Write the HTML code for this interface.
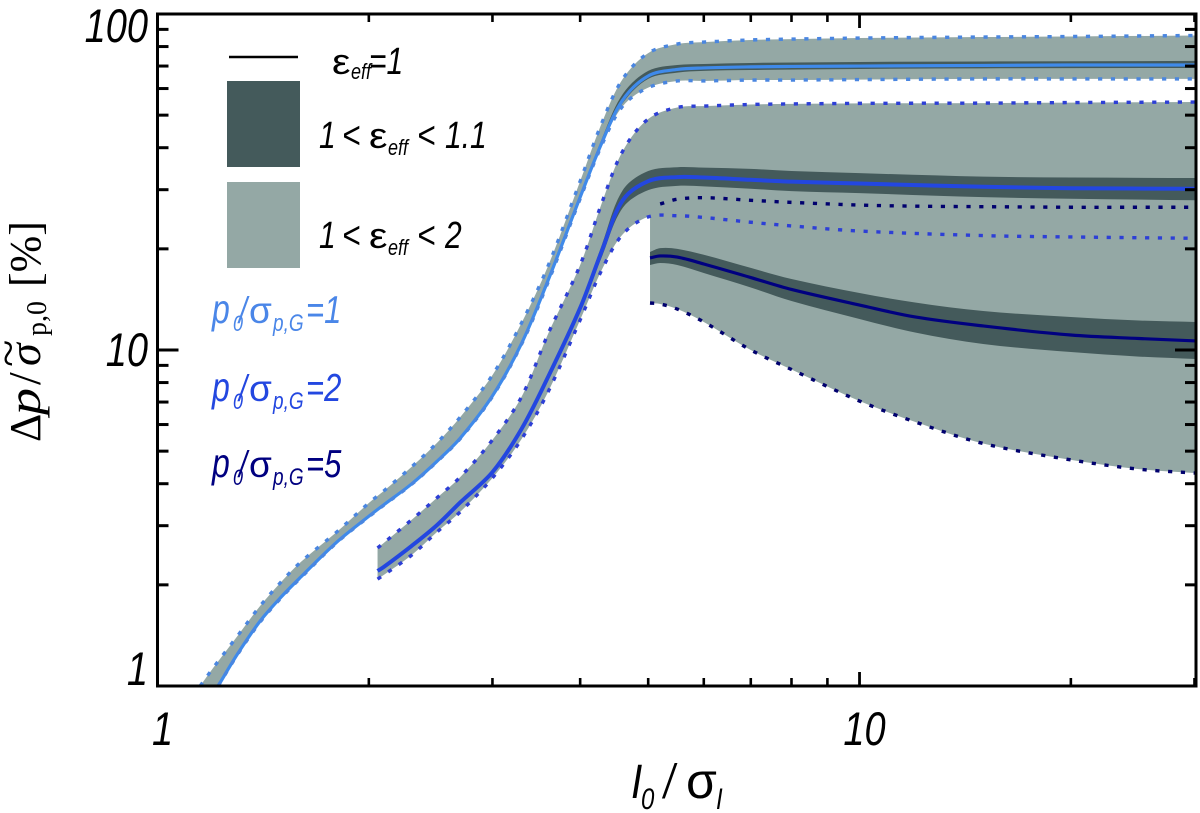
<!DOCTYPE html>
<html>
<head>
<meta charset="utf-8">
<title>Delta p versus I0 / sigma I</title>
<style>
html,body{margin:0;padding:0;background:#fff;}
svg{display:block;}
text{font-family:"Liberation Sans",sans-serif;}
.it{font-style:italic;}
.serif{font-family:"Liberation Serif",serif;}
</style>
</head>
<body>
<svg id="chart" xmlns="http://www.w3.org/2000/svg" width="1200" height="813" viewBox="0 0 1200 813">
  <defs><clipPath id="plot-clip"><rect x="157.5" y="14" width="1038.5" height="672"/></clipPath></defs>
  <rect x="0" y="0" width="1200" height="813" fill="#ffffff"/>
  <g id="marks" clip-path="url(#plot-clip)"></g>
  <g id="axes"></g>

  <g transform="translate(40,442) rotate(-90)" fill="#000">
    <text class="serif" x="0" y="0" font-size="44">Δ</text>
    <text class="serif" font-style="italic" transform="translate(27,0) scale(1.2,1)" font-size="45">p</text>
    <text class="serif" x="57" y="0" font-size="46">/</text>
    <text class="serif" font-style="italic" x="76" y="0" font-size="46">σ</text>
    <text class="serif" transform="translate(75,-17) scale(1.15,1)" font-size="44">~</text>
    <text class="serif" x="106" y="6" font-size="28">p,0</text>
    <text class="serif" x="155" y="0" font-size="44">[%]</text>
  </g>

  <g fill="#000">
    <text class="it" transform="translate(631,798) scale(1.1,1.3)" font-size="37">I</text>
    <text class="it" transform="translate(641,809) scale(1,1.25)" font-size="24">0</text>
    <text class="it" transform="translate(664,798) scale(1,1.3)" font-size="37">/</text>
    <text x="686" y="798" font-size="50">σ</text>
    <text class="it" transform="translate(716,809) scale(1,1.25)" font-size="24">I</text>
  </g>

  <g>
    <line x1="229" y1="57" x2="298" y2="57" stroke="#000" stroke-width="2.5"/>
    <rect x="227" y="81" width="73" height="86" fill="#445a5b"/>
    <rect x="227" y="182" width="73" height="86" fill="#94a8a5"/>

    <g fill="#000">
      <text transform="translate(332,74) scale(1.15,1)" font-size="36">ε</text>
      <text class="it" transform="translate(351,79) scale(1,1.25)" font-size="18">eff</text>
      <text class="it" transform="translate(369,74) scale(1,1.27)" font-size="30">=1</text>
    </g>
    <g fill="#000">
      <text class="it" transform="translate(319,148) scale(1,1.27)" font-size="30">1</text>
      <text class="it" transform="translate(342,148) scale(1.05,1.27)" font-size="30">&lt;</text>
      <text transform="translate(369,148) scale(1.15,1)" font-size="36">ε</text>
      <text class="it" transform="translate(388,155) scale(1,1.25)" font-size="18">eff</text>
      <text class="it" transform="translate(417,148) scale(1.05,1.27)" font-size="30">&lt;</text>
      <text class="it" transform="translate(445,148) scale(1,1.27)" font-size="30">1.1</text>
    </g>
    <g fill="#000">
      <text class="it" transform="translate(319,248) scale(1,1.27)" font-size="30">1</text>
      <text class="it" transform="translate(342,248) scale(1.05,1.27)" font-size="30">&lt;</text>
      <text transform="translate(369,248) scale(1.15,1)" font-size="36">ε</text>
      <text class="it" transform="translate(388,255) scale(1,1.25)" font-size="18">eff</text>
      <text class="it" transform="translate(417,248) scale(1.05,1.27)" font-size="30">&lt;</text>
      <text class="it" transform="translate(445,248) scale(1,1.27)" font-size="30">2</text>
    </g>

    <g fill="#4a86e8">
      <text class="it" transform="translate(212,323) scale(1,1.27)" font-size="32">p</text>
      <text class="it" transform="translate(233,331) scale(1,1.25)" font-size="18">0</text>
      <text class="it" transform="translate(239,323) scale(1,1.27)" font-size="29">/</text>
      <text x="249" y="323" font-size="37">σ</text>
      <text class="it" transform="translate(273,331) scale(1,1.25)" font-size="19">p,G</text>
      <text class="it" transform="translate(306,323) scale(1,1.27)" font-size="31">=1</text>
    </g>
    <g fill="#2347e0">
      <text class="it" transform="translate(212,401) scale(1,1.27)" font-size="32">p</text>
      <text class="it" transform="translate(233,409) scale(1,1.25)" font-size="18">0</text>
      <text class="it" transform="translate(239,401) scale(1,1.27)" font-size="29">/</text>
      <text x="249" y="401" font-size="37">σ</text>
      <text class="it" transform="translate(273,409) scale(1,1.25)" font-size="19">p,G</text>
      <text class="it" transform="translate(306,401) scale(1,1.27)" font-size="31">=2</text>
    </g>
    <g fill="#000080">
      <text class="it" transform="translate(212,477) scale(1,1.27)" font-size="32">p</text>
      <text class="it" transform="translate(233,485) scale(1,1.25)" font-size="18">0</text>
      <text class="it" transform="translate(239,477) scale(1,1.27)" font-size="29">/</text>
      <text x="249" y="477" font-size="37">σ</text>
      <text class="it" transform="translate(273,485) scale(1,1.25)" font-size="19">p,G</text>
      <text class="it" transform="translate(306,477) scale(1,1.27)" font-size="31">=5</text>
    </g>
  </g>
</svg>
<script>
// p0/sigma = 1
var xTopA = [1.15,1.2,1.3,1.4,1.5,1.6,1.8,2,2.1,2.3,2.5,2.7,3,3.3,3.6,4,4.3,4.6,5,5.5,6,7,8,10,15,20,30.15];
var topA = [1,1.131,1.409,1.73,2.04,2.339,2.873,3.504,3.805,4.485,5.287,6.32,8.42,12.03,17.78,31.8,47.7,64.1,76.5,81.4,82.5,83.7,84.2,84.8,85.4,85.7,86.3];
var xA = [1.22,1.3,1.4,1.5,1.6,1.8,2,2.1,2.3,2.5,2.7,3,3.3,3.6,4,4.3,4.6,5,5.5,6,7,8,10,15,20,30.15];
var midA = [1,1.245,1.56,1.84,2.11,2.68,3.2,3.46,3.99,4.66,5.47,7.3,10.45,16.1,28.5,41.6,55.5,65.4,68.4,69.1,69.6,69.8,70,70.3,70.5,70.5];
var lowA = [1,1.24,1.55,1.83,2.1,2.67,3.19,3.45,3.98,4.65,5.45,7.27,10.4,15.9,28.2,41,53.2,60.4,63.2,63.2,63.6,63.6,63.8,64.1,64.1,64.1];
var xDarkA = [4,4.3,4.6,5,5.5,6,7,10,15,30.15];
var darkTopA = [28.9,42.8,57.8,67.7,70.5,71,71.5,72,72.2,72.5];
var darkLowA = [28.3,41.3,54.3,64.1,66.9,67.7,68.1,68.6,68.9,69.1];
// p0/sigma = 2
var xB = [2.058,2.1,2.3,2.5,2.7,3,3.3,3.6,4,4.3,4.6,5,5.5,6,7,8,10,15,20,30.15];
var topB = [2.575,2.665,3.12,3.63,4.19,5.4,7.25,11.16,17.9,27.6,39.1,48.7,52.7,53.2,53.8,54,54.2,54.3,54.5,54.7];
var midB = [2.2,2.26,2.61,3.01,3.52,4.33,5.82,8.31,13.34,19.85,27.9,31.8,32.7,32.6,32.1,31.7,31.3,30.6,30.3,30.2];
var lowB = [2.08,2.14,2.45,2.87,3.3,4.16,5.43,7.5,12.29,17.42,22.1,24.9,25.1,24.8,24,23.4,22.6,21.9,21.7,21.5];
var xDarkB = [3.6,4,4.3,4.6,5,5.5,6,7,8,10,15,20,30.15];
var darkTopB = [8.42,13.61,20.7,29.9,34.1,35,34.9,34.6,34.1,33.6,32.8,32.6,32.5];
var darkLowB = [8.2,12.97,19.05,26.5,29.9,30.8,30.7,30.2,29.7,29.3,28.5,28.2,27.9];
// p0/sigma = 5
var xC = [5.03,5.2,5.5,6,7,8,10,12,15,20,25,30.15];
var topC = [26.5,27.2,28.1,28.4,27.9,27.5,27,26.8,26.7,26.6,26.6,26.6];
var midC = [18.8,19.05,18.9,18.03,16.43,15.14,13.61,12.54,11.79,11.08,10.82,10.64];
var lowC = [13.8,13.71,13.24,12.12,10,8.75,7.05,6.11,5.27,4.71,4.42,4.3];
var darkTopC = [19.58,20.1,20,19.2,17.55,16.27,14.78,13.85,13.06,12.54,12.24,12.12];
var darkLowC = [17.9,18.15,17.9,16.95,15.35,13.99,12.37,11.27,10.42,9.86,9.56,9.4];
// axis ticks
var xMajorTicks = [1,10];
var xMinorTicks = [2,3,4,5,6,7,8,9,20,30];
var yMajorTicks = [1,10,100];
var yMinorTicks = [2,3,4,5,6,7,8,9,20,30,40,50,60,70,80,90];
var xTickLabels = ['1','10'];
var yTickLabels = ['1','10','100'];

var NS = 'http://www.w3.org/2000/svg';
var LEFT = 157.5, RIGHT = 1196, TOP = 14, BOTTOM = 686;
var X_MIN = 1, X_MAX = 30.15, Y_MIN = 1, Y_MAX = 100;
var LIGHT = '#94a8a5', DARK = '#445a5b';
var C1 = '#3f8aea', C2 = '#2347e0', C3 = '#000080';
var D1 = '#4a86e0', D2 = '#2d3fd6', D3 = '#00006e';

function sx(v){ return LEFT + (RIGHT - LEFT) * Math.log10(v / X_MIN) / Math.log10(X_MAX / X_MIN); }
function sy(v){ return BOTTOM - (BOTTOM - TOP) * Math.log10(v / Y_MIN) / Math.log10(Y_MAX / Y_MIN); }

function pts(xs, ys){
  var out = [];
  for (var i = 0; i < xs.length; i++) out.push([sx(xs[i]), sy(ys[i])]);
  return out;
}
function unit(a, b){
  var dx = b[0] - a[0], dy = b[1] - a[1], l = Math.hypot(dx, dy) || 1;
  return [dx / l, dy / l];
}
function curve(p){
  var d = '';
  for (var i = 0; i < p.length - 1; i++) {
    var a = p[Math.max(i - 1, 0)], b = p[i], c = p[i + 1], e = p[Math.min(i + 2, p.length - 1)];
    var h = Math.hypot(c[0] - b[0], c[1] - b[1]);
    var t1 = unit(a, c), t2 = unit(b, e);
    var c1x = b[0] + t1[0] * h / 3, c1y = b[1] + t1[1] * h / 3;
    var c2x = c[0] - t2[0] * h / 3, c2y = c[1] - t2[1] * h / 3;
    d += 'C' + c1x.toFixed(2) + ' ' + c1y.toFixed(2) + ' ' + c2x.toFixed(2) + ' ' + c2y.toFixed(2) + ' ' + c[0].toFixed(2) + ' ' + c[1].toFixed(2);
  }
  return d;
}
function linePath(p){ return 'M' + p[0][0].toFixed(2) + ' ' + p[0][1].toFixed(2) + curve(p); }
function bandPath(top, low){
  var r = low.slice().reverse();
  return linePath(top) + 'L' + r[0][0].toFixed(2) + ' ' + r[0][1].toFixed(2) + curve(r) + 'Z';
}

var marks = document.getElementById('marks');
var axes = document.getElementById('axes');

function band(name, top, low, fill){
  var el = document.createElementNS(NS, 'path');
  
  
  el.setAttribute('d', bandPath(top, low));
  el.setAttribute('fill', fill);
  marks.appendChild(el);
}
function solid(name, p, color, w){
  var el = document.createElementNS(NS, 'path');
  
  
  el.setAttribute('d', linePath(p));
  el.setAttribute('fill', 'none');
  el.setAttribute('stroke', color);
  el.setAttribute('stroke-width', w);
  marks.appendChild(el);
}
function dotted(name, p, color){
  var el = document.createElementNS(NS, 'path');
  
  
  el.setAttribute('d', linePath(p));
  el.setAttribute('fill', 'none');
  el.setAttribute('stroke', color);
  el.setAttribute('stroke-width', 3.4);
  el.setAttribute('stroke-dasharray', '4.2 8.6');
  marks.appendChild(el);
}

var pTopA = pts(xTopA, topA), pMidA = pts(xA, midA), pLowA = pts(xA, lowA);
var pTopB = pts(xB, topB), pMidB = pts(xB, midB), pLowB = pts(xB, lowB);
var pTopC = pts(xC, topC), pMidC = pts(xC, midC), pLowC = pts(xC, lowC);

band('band-wide-p1', pTopA, pLowA, LIGHT);
band('band-narrow-p1', pts(xDarkA, darkTopA), pts(xDarkA, darkLowA), DARK);
band('band-wide-p2', pTopB, pLowB, LIGHT);
band('band-wide-p5', pTopC, pLowC, LIGHT);
band('band-narrow-p2', pts(xDarkB, darkTopB), pts(xDarkB, darkLowB), DARK);
band('band-narrow-p5', pts(xC, darkTopC), pts(xC, darkLowC), DARK);

solid('line-p1', pMidA, C1, 3.2);
solid('line-p2', pMidB, C2, 4);
solid('line-p5', pMidC, C3, 3.2);

dotted('upper-bound-p1', pTopA, D1);
dotted('lower-bound-p1', pLowA, D1);
dotted('upper-bound-p2', pTopB, D2);
dotted('lower-bound-p2', pLowB, D2);
dotted('upper-bound-p5', pTopC.slice(1), D3);
dotted('lower-bound-p5', pLowC, D3);

function tick(name, x1, y1, x2, y2, w){
  var el = document.createElementNS(NS, 'line');
  
  
  el.setAttribute('x1', x1);
  el.setAttribute('y1', y1);
  el.setAttribute('x2', x2);
  el.setAttribute('y2', y2);
  el.setAttribute('stroke', '#000');
  el.setAttribute('stroke-width', w);
  axes.appendChild(el);
}
function tickLabel(name, str, x, y, anchor){
  var el = document.createElementNS(NS, 'text');
  
  
  el.setAttribute('class', 'it');
  el.setAttribute('font-size', '38');
  el.setAttribute('fill', '#000');
  el.setAttribute('text-anchor', anchor);
  el.setAttribute('transform', 'translate(' + x + ',' + y + ') scale(1,1.25)');
  el.textContent = str;
  axes.appendChild(el);
}

xMinorTicks.forEach(function(v){
  var x = sx(v);
  tick('x-minor-tick-bottom', x, BOTTOM, x, BOTTOM - 8, 2.6);
  tick('x-minor-tick-top', x, TOP, x, TOP + 8, 2.6);
});
xMajorTicks.forEach(function(v, i){
  var x = sx(v);
  tick('x-major-tick-bottom', x, BOTTOM, x, BOTTOM - 14, 2.8);
  tick('x-major-tick-top', x, TOP, x, TOP + 14, 2.8);
  tickLabel('x-tick-label', xTickLabels[i], x + 5, 745, 'middle');
});
yMinorTicks.forEach(function(v){
  var y = sy(v);
  tick('y-minor-tick-left', LEFT, y, LEFT + 11, y, 3);
  tick('y-minor-tick-right', RIGHT, y, RIGHT - 11, y, 3);
});
yMajorTicks.forEach(function(v, i){
  var y = sy(v);
  tick('y-major-tick-left', LEFT, y, LEFT + 21, y, 3);
  tick('y-major-tick-right', RIGHT, y, RIGHT - 21, y, 3);
  tickLabel('y-tick-label', yTickLabels[i], 148, y + (i === 0 ? -1 : (i === 1 ? 16 : 28)), 'end');
});

var frame = document.createElementNS(NS, 'rect');


frame.setAttribute('x', LEFT);
frame.setAttribute('y', TOP);
frame.setAttribute('width', RIGHT - LEFT);
frame.setAttribute('height', BOTTOM - TOP);
frame.setAttribute('fill', 'none');
frame.setAttribute('stroke', '#000');
frame.setAttribute('stroke-width', 3);
axes.appendChild(frame);
</script>
</body>
</html>
